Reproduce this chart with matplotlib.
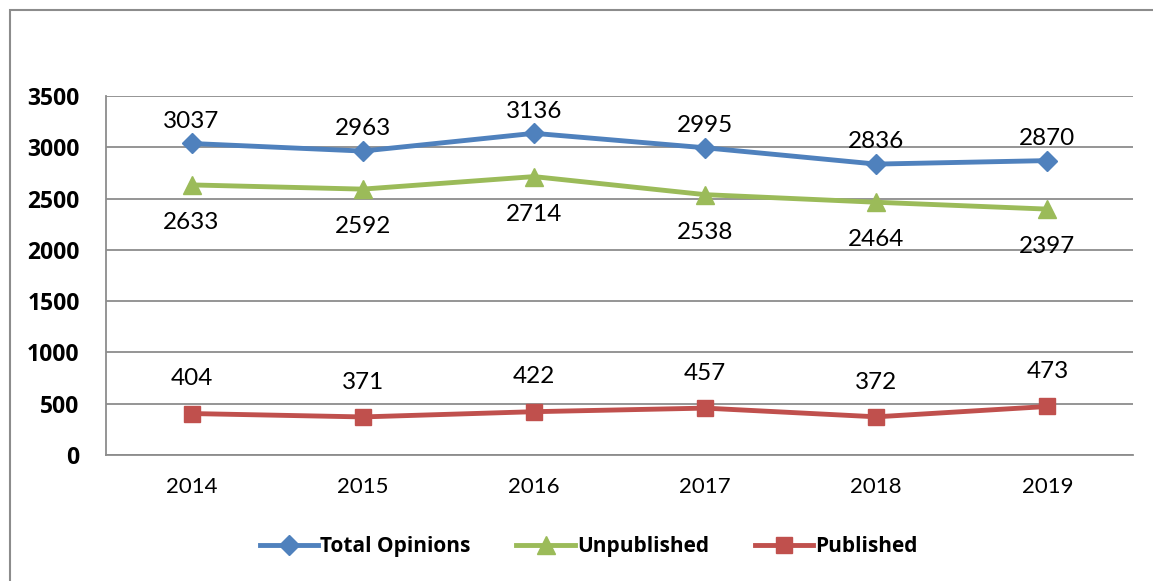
import matplotlib

matplotlib.use("Agg")
import matplotlib.pyplot as plt
from matplotlib.patches import Rectangle

years = ["2014", "2015", "2016", "2017", "2018", "2019"]
total = [3037, 2963, 3136, 2995, 2836, 2870]
unpublished = [2633, 2592, 2714, 2538, 2464, 2397]
published = [404, 371, 422, 457, 372, 473]

BLUE = "#4F81BD"
GREEN = "#9BBB59"
RED = "#C0504D"
GRID = "#8C8C8C"
FONT = "Lato"
BOLD_FONT = "Open Sans"

fig = plt.figure(figsize=(11.53, 5.81), dpi=100)
ax = fig.add_axes([0.0919, 0.2169, 0.8908, 0.6179])

x = list(range(len(years)))
ax.plot(x, total, color=BLUE, lw=3.5, marker="D", ms=10, label="Total Opinions", zorder=3)
ax.plot(x, unpublished, color=GREEN, lw=3.5, marker="^", ms=13, label="Unpublished", zorder=3)
ax.plot(x, published, color=RED, lw=3.5, marker="s", ms=12, label="Published", zorder=3)

# data labels: totals & published above, unpublished below
for xi, v in zip(x, total):
    ax.annotate(str(v), (xi, v), xytext=(0, 16), textcoords="offset points",
                ha="center", va="center", fontsize=17.5, family=FONT)
for xi, v in zip(x, unpublished):
    ax.annotate(str(v), (xi, v), xytext=(0, -27), textcoords="offset points",
                ha="center", va="center", fontsize=17.5, family=FONT)
for xi, v in zip(x, published):
    ax.annotate(str(v), (xi, v), xytext=(0, 25), textcoords="offset points",
                ha="center", va="center", fontsize=17.5, family=FONT)

ax.set_xlim(-0.5, len(years) - 0.5)
ax.set_ylim(0, 3500)
ax.set_yticks(range(0, 3501, 500))
ax.set_xticks(x)
ax.set_xticklabels(years, fontsize=16, family=FONT)
for lab in ax.get_yticklabels():
    lab.set_fontsize(16.5)
    lab.set_fontweight("bold")
    lab.set_family(BOLD_FONT)
ax.tick_params(axis="x", length=0, pad=16)
ax.tick_params(axis="y", length=0, pad=19)
ax.yaxis.grid(True, color=GRID, lw=1.3)
ax.set_axisbelow(True)
for side in ("top", "right"):
    ax.spines[side].set_visible(False)
for side in ("left", "bottom"):
    ax.spines[side].set_color(GRID)
    ax.spines[side].set_linewidth(1.3)

leg = ax.legend(loc="center", bbox_to_anchor=(0.47, -0.255), ncol=3, frameon=False,
                prop={"family": BOLD_FONT, "weight": "bold", "size": 15},
                handlelength=2.8, columnspacing=2.2, handletextpad=0.1)

# outer chart border
fig.patches.append(Rectangle((10 / 1153, -0.05), 1.2, 1 - 10 / 581 + 0.05,
                             transform=fig.transFigure, fill=False,
                             edgecolor="#8C8C8C", lw=1.5))

fig.savefig("out.png", dpi=100)
